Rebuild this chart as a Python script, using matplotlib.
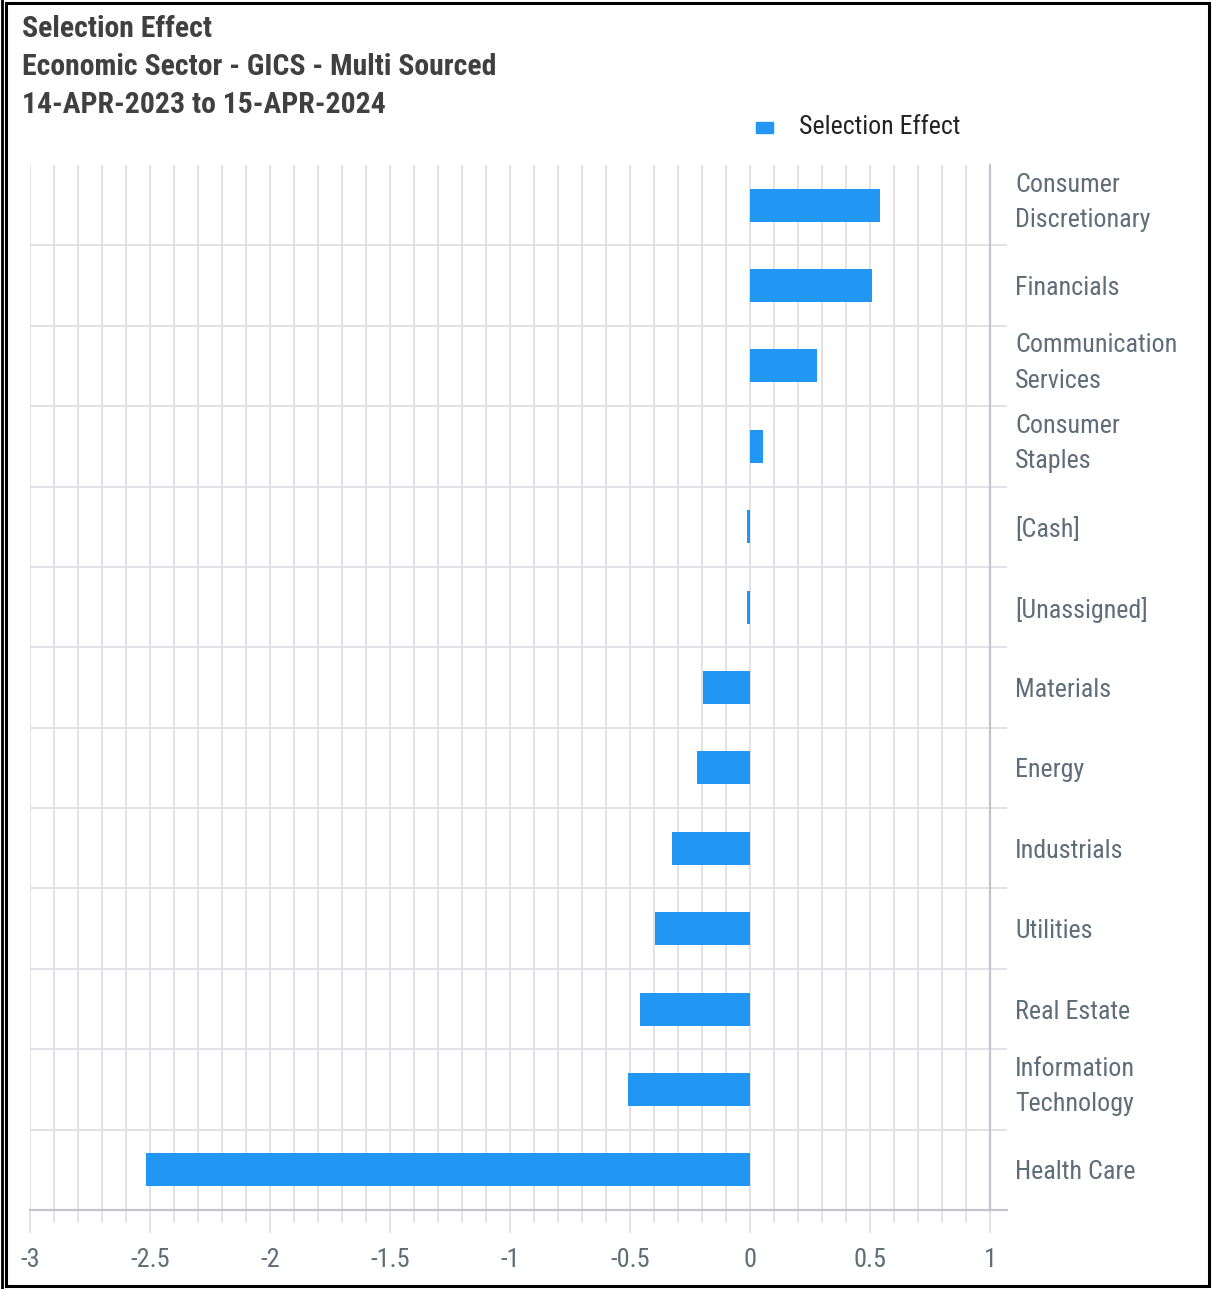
import matplotlib
matplotlib.use("Agg")
import matplotlib.pyplot as plt
from matplotlib.patches import Rectangle
from matplotlib.lines import Line2D
from matplotlib.transforms import ScaledTranslation
from matplotlib import font_manager
import numpy as np

categories = ["Consumer\nDiscretionary", "Financials", "Communication\nServices",
              "Consumer\nStaples", "[Cash]", "[Unassigned]", "Materials", "Energy",
              "Industrials", "Utilities", "Real Estate", "Information\nTechnology",
              "Health Care"]
values = [0.542, 0.508, 0.28, 0.054, -0.012, -0.012, -0.196, -0.22,
          -0.325, -0.396, -0.458, -0.508, -2.517]
xticks = [-3, -2.5, -2, -1.5, -1, -0.5, 0, 0.5, 1]
xticklabels = ["-3", "-2.5", "-2", "-1.5", "-1", "-0.5", "0", "0.5", "1"]
title_lines = ["Selection Effect", "Economic Sector - GICS - Multi Sourced",
               "14-APR-2023 to 15-APR-2024"]
legend_label = "Selection Effect"

names = {f.name for f in font_manager.fontManager.ttflist}
fam = [f for f in ["Liberation Sans Narrow", "Roboto Condensed", "Liberation Sans"] if f in names] + ["DejaVu Sans"]
plt.rcParams['font.family'] = fam

W, H = 1212, 1289
fig = plt.figure(figsize=(W / 100, H / 100), dpi=100)
fig.patch.set_facecolor("white")

def fx(px):
    return px / W

def fy(py):
    return 1 - py / H

left, right, top, bottom = 30, 990, 165, 1210
ax = fig.add_axes([fx(left), fy(bottom), fx(right - left), (bottom - top) / H])

bar_color = "#2196F3"
grid_color = "#e1e2e7"
axis_color = "#c3c4cc"
label_color = "#5f6d78"

n = len(categories)
ypos = np.arange(n)[::-1]
ax.barh(ypos, values, height=0.41, color=bar_color, zorder=3)

ax.set_xlim(-3, 1)
ax.set_ylim(-0.5, n - 0.5)

ax.set_xticks(xticks)
ax.set_xticklabels(xticklabels)
ax.set_xticks(np.arange(-3, 1.0001, 0.1), minor=True)

ax.yaxis.tick_right()
ax.set_yticks(ypos)
ax.set_yticklabels(categories, ha="left", linespacing=1.6)
ax.set_yticks(np.arange(0.5, n - 0.5, 1.0), minor=True)

ax.tick_params(axis="x", which="major", length=16.5, width=1.4, color=grid_color,
               labelsize=19, labelcolor=label_color, pad=11)
ax.tick_params(axis="x", which="minor", length=9.4, width=1.4, color=grid_color)
ax.tick_params(axis="y", which="major", length=0, labelsize=18.7, labelcolor=label_color,
               pad=18, right=True, left=False)
ax.tick_params(axis="y", which="minor", length=12.5, width=1.4, color=grid_color,
               right=True, left=False)

for lab in ax.get_yticklabels():
    if "\n" in lab.get_text():
        lab.set_transform(lab.get_transform() + ScaledTranslation(0, 11 / 100, fig.dpi_scale_trans))

ax.grid(axis="x", which="both", color=grid_color, linewidth=1.4, zorder=0)
ax.grid(axis="y", which="minor", color=grid_color, linewidth=1.4, zorder=0)
ax.grid(axis="y", which="major", visible=False)
ax.set_axisbelow(True)

for s in ["top", "left"]:
    ax.spines[s].set_visible(False)
for s in ["bottom", "right"]:
    ax.spines[s].set_color(axis_color)
    ax.spines[s].set_linewidth(1.6)

fig.add_artist(Line2D([fx(right), fx(1007)], [fy(bottom), fy(bottom)],
                      color=axis_color, linewidth=1.6))

# Titles
title_color = "#404040"
for i, t in enumerate(title_lines):
    fig.text(fx(22), fy(37 + 38 * i), t, fontsize=21.4, fontweight="bold",
             color=title_color, ha="left", va="baseline")

# Legend
fig.patches.append(Rectangle((fx(756), fy(133)), fx(17), 11 / H, color=bar_color,
                             transform=fig.transFigure, figure=fig))
fig.text(fx(799), fy(127), legend_label, fontsize=18.6, color="#222222",
         ha="left", va="center")

# Border
fig.patches.append(Rectangle((fx(6), fy(1286)), fx(1203), 1283 / H, fill=False,
                             edgecolor="black", linewidth=2.2,
                             transform=fig.transFigure, figure=fig))
fig.add_artist(Line2D([fx(1.5), fx(1.5)], [fy(0), fy(1289)], color="black", linewidth=2))

fig.savefig("out.png", dpi=100)
